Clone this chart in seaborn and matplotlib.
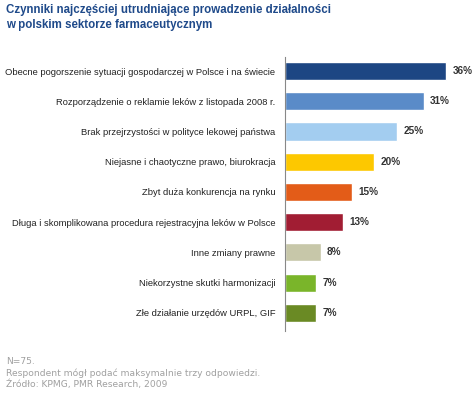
import pandas as pd
import seaborn as sns
import matplotlib.pyplot as plt

# Dane z wykresu
kategorie = [
    "Obecne pogorszenie sytuacji gospodarczej w Polsce i na świecie",
    "Rozporządzenie o reklamie leków z listopada 2008 r.",
    "Brak przejrzystości w polityce lekowej państwa",
    "Niejasne i chaotyczne prawo, biurokracja",
    "Zbyt duża konkurencja na rynku",
    "Długa i skomplikowana procedura rejestracyjna leków w Polsce",
    "Inne zmiany prawne",
    "Niekorzystne skutki harmonizacji",
    "Złe działanie urzędów URPL, GIF",
]
wartosci = [36, 31, 25, 20, 15, 13, 8, 7, 7]
kolory = ["#1d4683", "#5a8bc8", "#a3cdf0", "#fdc800", "#e35c18",
          "#a11d33", "#c7c7a9", "#7ab52a", "#6a8a24"]

df = pd.DataFrame({"kategoria": kategorie, "wartosc": wartosci})

sns.set_style("white")
plt.rcParams["font.family"] = ["Liberation Sans", "DejaVu Sans"]

fig = plt.figure(figsize=(4.74, 3.94), dpi=100)
ax = fig.add_axes([0.601, 0.16, 0.378, 0.695])

sns.barplot(data=df, x="wartosc", y="kategoria", hue="kategoria",
            palette=kolory, orient="h", width=0.6, legend=False, ax=ax,
            saturation=1)

for i, v in enumerate(wartosci):
    ax.text(v + 1.4, i, f"{v}%", va="center", ha="left", fontsize=7.2,
            fontweight="bold", color="#333333")

ax.set_xlim(0, 40)
ax.set_ylim(8.6, -0.46)
ax.set_xlabel("")
ax.set_ylabel("")
ax.set_xticks([])
ax.tick_params(axis="y", length=0, pad=7, labelsize=6.75, labelcolor="#222222")
for s in ["top", "right", "bottom"]:
    ax.spines[s].set_visible(False)
ax.spines["left"].set_color("#888888")
ax.spines["left"].set_linewidth(0.8)

fig.text(0.013, 0.975, "Czynniki najczęściej utrudniające prowadzenie działalności",
         fontsize=8.3, fontweight="bold", color="#1f4a8a", va="center")
fig.text(0.013, 0.937, "w polskim sektorze farmaceutycznym",
         fontsize=8.3, fontweight="bold", color="#1f4a8a", va="center")

stopka = ["N=75.",
          "Respondent mógł podać maksymalnie trzy odpowiedzi.",
          "Źródło: KPMG, PMR Research, 2009"]
for j, t in enumerate(stopka):
    fig.text(0.013, 1 - (362 + 11 * j) / 394, t, fontsize=6.6,
             family="DejaVu Sans", color="#a0a0a0", va="center")

fig.savefig("out.png", dpi=100)
